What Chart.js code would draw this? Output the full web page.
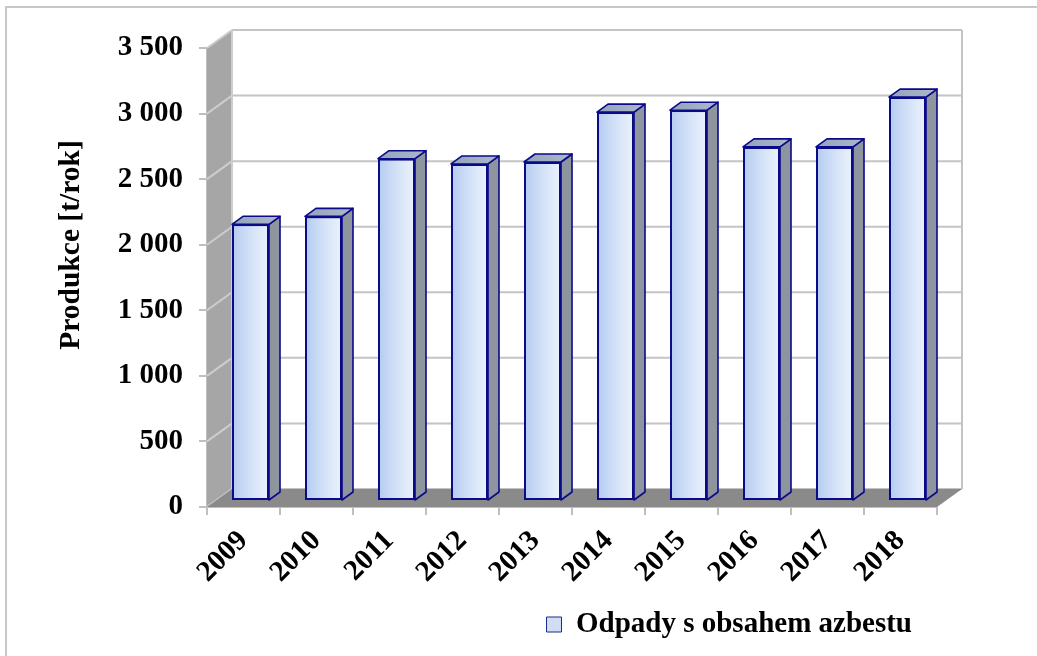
<!DOCTYPE html>
<html>
<head>
<meta charset="utf-8">
<script src="https://cdn.jsdelivr.net/npm/chart.js@4/dist/chart.umd.min.js"></script>
<style>
  html, body { margin: 0; padding: 0; background: #fff; }
  #wrap { width: 1037px; height: 656px; }
</style>
</head>
<body>
<div id="wrap"><canvas id="chart" width="1037" height="656"></canvas></div>
<script>
// data
const years = ['2009', '2010', '2011', '2012', '2013', '2014', '2015', '2016', '2017', '2018'];
const production = [2110, 2170, 2610, 2570, 2585, 2965, 2980, 2700, 2700, 3080];
const seriesName = 'Odpady s obsahem azbestu';
const axisTitle = 'Produkce [t/rok]';

const fontFamily = "'Liberation Serif', 'Times New Roman', serif";

// 3D look: floor depth, where the bars sit in it and their own depth
const floorDepth = { x: 25, y: -18 };
const barShift = { x: 7, y: -6 };
const barDepth = { x: 11, y: -8 };

function formatThousands(v) {
    if (v < 1000) return String(v);
    const rest = String(v % 1000).padStart(3, '0');
    return Math.floor(v / 1000) + ' ' + rest;
}

const walls3d = {
    id: 'walls3d',
    beforeDraw(chart) {
        const c = chart.ctx;
        c.save();
        c.strokeStyle = '#c8c8c8';
        c.lineWidth = 2;
        c.beginPath();
        c.moveTo(6, 700);
        c.lineTo(6, 7);
        c.lineTo(1100, 7);
        c.stroke();
        c.restore();
    },
    beforeDatasetsDraw(chart) {
        const c = chart.ctx;
        const { left, right, top, bottom } = chart.chartArea;
        const y = chart.scales.y;
        const dx = floorDepth.x, dy = floorDepth.y;
        c.save();
        // back wall
        c.fillStyle = '#ffffff';
        c.fillRect(left + dx, top + dy, right - left, bottom - top);
        // back wall grid
        c.strokeStyle = '#c4c4c4';
        c.lineWidth = 2;
        y.ticks.forEach(t => {
            const py = y.getPixelForValue(t.value) + dy;
            c.beginPath();
            c.moveTo(left + dx, py);
            c.lineTo(right + dx, py);
            c.stroke();
        });
        c.beginPath();
        c.moveTo(right + dx, top + dy);
        c.lineTo(right + dx, bottom + dy);
        c.stroke();
        // side wall
        c.fillStyle = '#a6a6a6';
        c.beginPath();
        c.moveTo(left, top);
        c.lineTo(left + dx, top + dy);
        c.lineTo(left + dx, bottom + dy);
        c.lineTo(left, bottom);
        c.closePath();
        c.fill();
        c.strokeStyle = '#cdcdcd';
        y.ticks.forEach(t => {
            const py = y.getPixelForValue(t.value);
            c.beginPath();
            c.moveTo(left, py);
            c.lineTo(left + dx, py + dy);
            c.stroke();
        });
        c.beginPath();
        c.moveTo(left + dx, top + dy);
        c.lineTo(left + dx, bottom + dy);
        c.stroke();
        // floor
        c.fillStyle = '#8a8a8a';
        c.beginPath();
        c.moveTo(left, bottom);
        c.lineTo(right, bottom);
        c.lineTo(right + dx, bottom + dy);
        c.lineTo(left + dx, bottom + dy);
        c.closePath();
        c.fill();
        c.restore();

        c.save();
        c.translate(barShift.x, barShift.y);
    },
    afterDatasetsDraw(chart) {
        const c = chart.ctx;
        const meta = chart.getDatasetMeta(0);
        const dx = barDepth.x, dy = barDepth.y;
        meta.data.forEach(bar => {
            const l = bar.x - bar.width / 2, r = bar.x + bar.width / 2;
            const t = bar.y, b = bar.base;
            c.lineWidth = 1.6;
            c.strokeStyle = '#0a0a8a';
            c.lineJoin = 'round';
            // right face
            c.fillStyle = '#8e959e';
            c.beginPath();
            c.moveTo(r, t);
            c.lineTo(r + dx, t + dy);
            c.lineTo(r + dx, b + dy);
            c.lineTo(r, b);
            c.closePath();
            c.fill();
            c.stroke();
            // top face
            const g = c.createLinearGradient(l, 0, r + dx, 0);
            g.addColorStop(0, '#93a3bb');
            g.addColorStop(1, '#aeb9c9');
            c.fillStyle = g;
            c.beginPath();
            c.moveTo(l, t);
            c.lineTo(l + dx, t + dy);
            c.lineTo(r + dx, t + dy);
            c.lineTo(r, t);
            c.closePath();
            c.fill();
            c.stroke();
        });
        c.restore();
    },
    afterDraw(chart) {
        const c = chart.ctx;
        c.save();
        c.translate(71, 245);
        c.rotate(-Math.PI / 2);
        c.font = 'bold 29.5px ' + fontFamily;
        c.fillStyle = '#000';
        c.textAlign = 'center';
        c.textBaseline = 'middle';
        c.fillText(axisTitle, 0, 0);
        c.restore();
    }
};

function frontGradient(context) {
    const chart = context.chart;
    const xs = chart.scales.x;
    if (!xs || context.dataIndex === undefined) return '#cfddf5';
    const cx = xs.getPixelForValue(context.dataIndex);
    const half = 18.5;
    const g = chart.ctx.createLinearGradient(cx - half, 0, cx + half, 0);
    g.addColorStop(0, '#b3cbf0');
    g.addColorStop(0.5, '#d3e1f7');
    g.addColorStop(1, '#ebf2fc');
    return g;
}

new Chart(document.getElementById('chart'), {
    type: 'bar',
    data: {
        labels: years,
        datasets: [{
            label: seriesName,
            data: production,
            backgroundColor: frontGradient,
            borderColor: '#0a0a8a',
            borderWidth: 2,
            borderSkipped: false,
            barPercentage: 0.507,
            categoryPercentage: 1
        }]
    },
    options: {
        responsive: false,
        animation: false,
        devicePixelRatio: 1,
        layout: { padding: { top: 48, right: 100, bottom: 7, left: 0 } },
        scales: {
            x: {
                z: 1,
                afterFit: scale => { scale.height = 78; },
                grid: { display: true, offset: true, drawOnChartArea: false, tickLength: 8, color: '#bfbfbf', lineWidth: 2 },
                border: { display: true, color: '#bfbfbf', width: 2 },
                ticks: {
                    minRotation: 45,
                    maxRotation: 45,
                    padding: 9,
                    color: '#000',
                    font: { family: fontFamily, size: 29, weight: 'bold' }
                }
            },
            y: {
                z: 1,
                min: 0,
                max: 3500,
                afterFit: scale => { scale.width = 207; },
                grid: { display: true, drawOnChartArea: false, tickLength: 8, color: '#bfbfbf', lineWidth: 2 },
                border: { display: true, color: '#bfbfbf', width: 2 },
                ticks: {
                    stepSize: 500,
                    padding: 16,
                    color: '#000',
                    font: { family: fontFamily, size: 29, weight: 'bold' },
                    callback: v => formatThousands(v)
                }
            }
        },
        plugins: {
            legend: {
                position: 'bottom',
                align: 'end',
                labels: {
                    color: '#000',
                    boxWidth: 15,
                    boxHeight: 15,
                    padding: 25,
                    font: { family: fontFamily, size: 29, weight: 'bold' },
                    generateLabels: chart => [{
                        text: seriesName,
                        fillStyle: '#cfddf5',
                        strokeStyle: '#1a2a90',
                        lineWidth: 1,
                        datasetIndex: 0
                    }]
                }
            },
            tooltip: { enabled: false }
        }
    },
    plugins: [walls3d]
});
</script>
</body>
</html>
